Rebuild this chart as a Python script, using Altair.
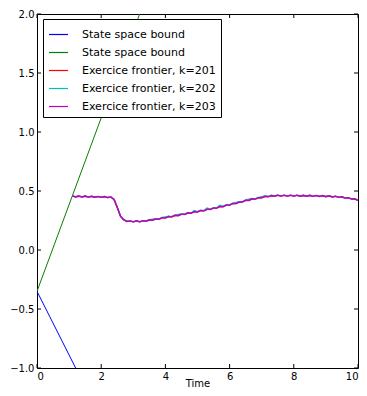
import altair as alt
import pandas as pd

# ---- data ----
series_names = ["lower", "upper", "k201", "k202", "k203"]
series_labels = ["State space bound", "State space bound",
                 "Exercice frontier, k=201", "Exercice frontier, k=202",
                 "Exercice frontier, k=203"]
series_colors = ["#0000ff", "#008000", "#ff0000", "#00bfbf", "#bf00bf"]

bound_t = [0.0, 4.0]
lower_v = [-0.35, -2.51]
upper_v = [-0.35, 2.59]

front_t = [1.1, 1.2, 1.3, 1.4, 1.5, 1.6, 1.7, 1.8, 1.9, 2.0,
           2.1, 2.2, 2.3, 2.4, 2.5, 2.6, 2.7, 2.8, 2.9, 3.0,
           3.1, 3.2, 3.3, 3.4, 3.5, 3.6, 3.7, 3.8, 3.9, 4.0,
           4.1, 4.2, 4.3, 4.4, 4.5, 4.6, 4.7, 4.8, 4.9, 5.0,
           5.1, 5.2, 5.3, 5.4, 5.5, 5.6, 5.7, 5.8, 5.9, 6.0,
           6.1, 6.2, 6.3, 6.4, 6.5, 6.6, 6.7, 6.8, 6.9, 7.0,
           7.1, 7.2, 7.3, 7.4, 7.5, 7.6, 7.7, 7.8, 7.9, 8.0,
           8.1, 8.2, 8.3, 8.4, 8.5, 8.6, 8.7, 8.8, 8.9, 9.0,
           9.1, 9.2, 9.3, 9.4, 9.5, 9.6, 9.7, 9.8, 9.9, 10.0]

k203_v = [0.459, 0.450, 0.458, 0.449, 0.457, 0.448, 0.455, 0.447, 0.454, 0.446,
          0.453, 0.444, 0.450, 0.428, 0.362, 0.288, 0.257, 0.242, 0.247, 0.239,
          0.247, 0.239, 0.249, 0.244, 0.256, 0.252, 0.264, 0.261, 0.274, 0.271,
          0.284, 0.281, 0.294, 0.291, 0.304, 0.301, 0.315, 0.312, 0.325, 0.322,
          0.335, 0.332, 0.346, 0.343, 0.357, 0.355, 0.369, 0.367, 0.382, 0.380,
          0.395, 0.393, 0.408, 0.407, 0.422, 0.420, 0.434, 0.431, 0.444, 0.442,
          0.455, 0.451, 0.462, 0.456, 0.465, 0.457, 0.465, 0.457, 0.465, 0.457,
          0.465, 0.456, 0.464, 0.456, 0.464, 0.455, 0.463, 0.454, 0.461, 0.452,
          0.459, 0.449, 0.456, 0.446, 0.451, 0.440, 0.444, 0.432, 0.434, 0.420]

k202_v = [0.459, 0.450, 0.458, 0.449, 0.457, 0.448, 0.455, 0.447, 0.454, 0.446,
          0.453, 0.444, 0.450, 0.428, 0.362, 0.288, 0.257, 0.242, 0.247, 0.239,
          0.247, 0.239, 0.249, 0.244, 0.258, 0.262, 0.266, 0.263, 0.276, 0.281,
          0.286, 0.283, 0.296, 0.301, 0.306, 0.303, 0.317, 0.314, 0.335, 0.324,
          0.337, 0.334, 0.356, 0.345, 0.359, 0.357, 0.379, 0.369, 0.384, 0.382,
          0.397, 0.403, 0.410, 0.409, 0.424, 0.430, 0.436, 0.433, 0.446, 0.452,
          0.457, 0.453, 0.464, 0.458, 0.466, 0.457, 0.465, 0.457, 0.465, 0.457,
          0.465, 0.456, 0.464, 0.456, 0.464, 0.455, 0.463, 0.454, 0.461, 0.452,
          0.459, 0.449, 0.456, 0.446, 0.451, 0.440, 0.444, 0.432, 0.434, 0.420]

k201_v = [0.457, 0.452, 0.456, 0.450, 0.455, 0.449, 0.454, 0.448, 0.452, 0.447,
          0.451, 0.445, 0.449, 0.428, 0.360, 0.287, 0.256, 0.243, 0.245, 0.240,
          0.245, 0.240, 0.247, 0.245, 0.254, 0.253, 0.262, 0.262, 0.272, 0.272,
          0.282, 0.282, 0.292, 0.292, 0.302, 0.302, 0.313, 0.313, 0.323, 0.323,
          0.333, 0.333, 0.344, 0.344, 0.355, 0.356, 0.367, 0.368, 0.380, 0.381,
          0.393, 0.394, 0.406, 0.408, 0.420, 0.421, 0.432, 0.432, 0.442, 0.443,
          0.453, 0.452, 0.460, 0.457, 0.463, 0.458, 0.463, 0.458, 0.463, 0.458,
          0.463, 0.457, 0.462, 0.457, 0.462, 0.456, 0.461, 0.455, 0.459, 0.453,
          0.457, 0.450, 0.454, 0.447, 0.449, 0.441, 0.442, 0.433, 0.432, 0.421]

x_ticks = [0, 2, 4, 6, 8, 10]
y_ticks = [-1.0, -0.5, 0.0, 0.5, 1.0, 1.5, 2.0]

# ---- tables ----
rows = []
for t, v in zip(bound_t, lower_v):
    rows.append({"t": t, "v": v, "series": "lower"})
for t, v in zip(bound_t, upper_v):
    rows.append({"t": t, "v": v, "series": "upper"})
for name, vals in [("k201", k201_v), ("k202", k202_v), ("k203", k203_v)]:
    for t, v in zip(front_t, vals):
        rows.append({"t": t, "v": v, "series": name})
df = pd.DataFrame(rows)

xt = pd.DataFrame({"t": x_ticks})
yt = pd.DataFrame({"v": y_ticks})

W, H = 321, 354
FONT = "DejaVu Sans"

label_expr = ("datum.label == 'lower' || datum.label == 'upper' ? 'State space bound' : "
              "datum.label == 'k201' ? 'Exercice frontier, k=201' : "
              "datum.label == 'k202' ? 'Exercice frontier, k=202' : 'Exercice frontier, k=203'")

xscale = alt.Scale(domain=[0, 10], nice=False, zero=False)
yscale = alt.Scale(domain=[-1.0, 2.0], nice=False, zero=False)

xaxis = alt.Axis(values=x_ticks, format="d", grid=False, domain=False,
                 ticks=False, labelPadding=3, labelFont=FONT,
                 labelFontSize=10, labelColor="black",
                 titleFont=FONT, titleFontSize=10, titleFontWeight="normal",
                 titleColor="black", titleY=18, titleBaseline="alphabetic")
yaxis = alt.Axis(values=y_ticks, format=".1f", grid=False, domain=False,
                 ticks=False, labelPadding=3, labelFont=FONT,
                 labelFontSize=10, labelColor="black")

color = alt.Color(
    "series:N",
    scale=alt.Scale(domain=series_names, range=series_colors),
    legend=alt.Legend(
        title=None, orient="none", legendX=6, legendY=5,
        symbolType="stroke", symbolSize=361, symbolStrokeWidth=1.2,
        labelFont=FONT, labelFontSize=11, labelColor="black",
        labelOffset=13, rowPadding=2, padding=5,
        strokeColor="black", fillColor="white", cornerRadius=0,
        labelExpr=label_expr, labelLimit=300,
    ),
)

xenc = alt.X("t:Q", scale=xscale, title="Time", axis=xaxis)
yenc = alt.Y("v:Q", scale=yscale, title=None, axis=yaxis)

base = alt.Chart(df)
layers = []
for i, name in enumerate(series_names):
    sw = 1.0 if i < 2 else 1.4
    layers.append(
        base.transform_filter(alt.datum.series == name)
        .mark_line(strokeWidth=sw, clip=True)
        .encode(x=xenc, y=yenc, color=color)
    )

tick_x_bottom = alt.Chart(xt).mark_rule(color="black", strokeWidth=1).encode(
    x=xenc, y=alt.value(H), y2=alt.value(H - 4))
tick_x_top = alt.Chart(xt).mark_rule(color="black", strokeWidth=1).encode(
    x=xenc, y=alt.value(0), y2=alt.value(4))
tick_y_left = alt.Chart(yt).mark_rule(color="black", strokeWidth=1).encode(
    y=yenc, x=alt.value(0), x2=alt.value(4))
tick_y_right = alt.Chart(yt).mark_rule(color="black", strokeWidth=1).encode(
    y=yenc, x=alt.value(W), x2=alt.value(W - 4))

chart = alt.layer(*layers, tick_x_bottom, tick_x_top, tick_y_left, tick_y_right).properties(
    width=W, height=H,
    autosize=alt.AutoSizeParams(type="none"),
    padding={"left": 29, "top": 6, "right": 1, "bottom": 20},
    background="white",
).configure_view(stroke="black", strokeWidth=1)

chart.save("out.html", embed_options={"renderer": "svg", "actions": False})
